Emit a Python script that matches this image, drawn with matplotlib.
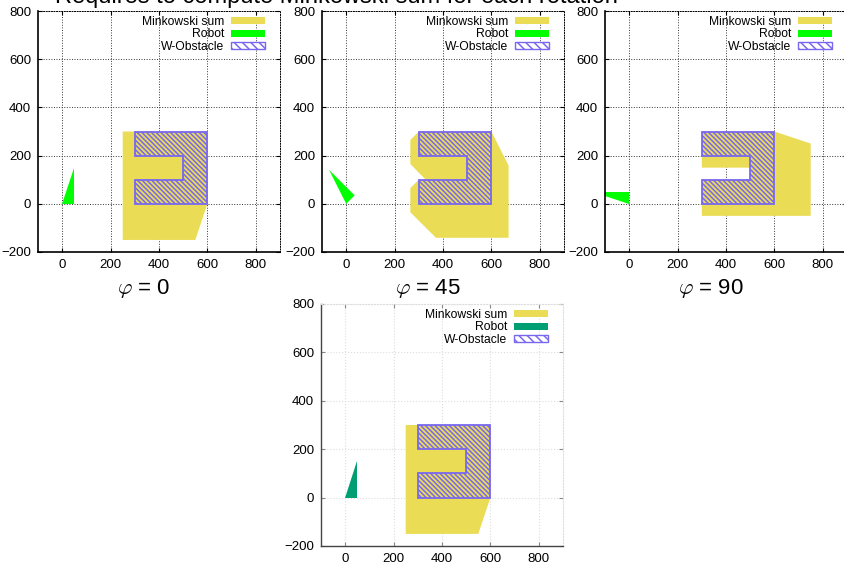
import matplotlib.pyplot as plt
from matplotlib.patches import Polygon, Patch

plt.rcParams['font.family'] = ['Liberation Sans', 'DejaVu Sans']
plt.rcParams['mathtext.fontset'] = 'cm'
plt.rcParams['hatch.linewidth'] = 1.1

# W-obstacle (C shape opening to the left)
obstacle = [(300, 0), (600, 0), (600, 300), (300, 300), (300, 200),
            (500, 200), (500, 100), (300, 100)]

# robot triangle per rotation
robot_0 = [(0, 0), (50, 0), (50, 150)]
robot_45 = [(0, 0), (35, 35), (-71, 141)]
robot_90 = [(0, 0), (0, 50), (-150, 50)]

# Minkowski sum outlines per rotation
mink_0 = [(250, -150), (550, -150), (600, 0), (600, 300), (250, 300)]
mink_45 = [(265, -35), (371, -141), (671, -141), (671, 159), (600, 300),
           (300, 300), (265, 265), (265, 165), (329, 100), (300, 100),
           (265, 65)]
mink_90 = [(300, -50), (750, -50), (750, 250), (600, 300), (300, 300),
           (300, 150), (500, 150), (500, 100), (300, 100)]

angles = ['0', '45', '90']
x_ticks = [0, 200, 400, 600, 800]
y_ticks = [-200, 0, 200, 400, 600, 800]

YELLOW = '#ebdc55'
LIME = '#00ff00'
TEAL = '#009e73'
BLUE = '#7868f0'
HATCH = '\\' * 7

W, H = 845, 564
fig = plt.figure(figsize=(W / 100, H / 100), dpi=100)


def px_axes(left, top, right, bottom):
    return fig.add_axes([left / W, 1 - bottom / H, (right - left) / W, (bottom - top) / H])


def draw_panel(ax, mink, robot, robot_color, light=False):
    ax.add_patch(Polygon(mink, closed=True, facecolor=YELLOW, edgecolor='none', zorder=2))
    ax.add_patch(Polygon(robot, closed=True, facecolor=robot_color, edgecolor='none', zorder=2))
    ax.add_patch(Polygon(obstacle, closed=True, facecolor='none', edgecolor=BLUE,
                         hatch=HATCH, linewidth=0, zorder=3))
    ax.add_patch(Polygon(obstacle, closed=True, facecolor='none', edgecolor=BLUE,
                         linewidth=1.3, zorder=4))
    ax.set_xlim(-100, 900)
    ax.set_ylim(-200, 800)
    ax.set_xticks(x_ticks)
    ax.set_yticks(y_ticks)
    ax.tick_params(direction='in', top=True, right=True, labelsize=9.5, length=3,
                   colors='#888888' if light else 'black', labelcolor='black', pad=5)
    if light:
        ax.grid(True, color='#dddddd', linestyle=':', linewidth=0.8)
        for s in ['left', 'bottom']:
            ax.spines[s].set_color('#444444')
            ax.spines[s].set_linewidth(1.0)
        for s in ['top', 'right']:
            ax.spines[s].set_color('#dddddd')
            ax.spines[s].set_linestyle(':')
            ax.spines[s].set_linewidth(0.8)
    else:
        ax.grid(True, color='#333333', linestyle=':', linewidth=0.7)
        for s in ['left', 'bottom']:
            ax.spines[s].set_linewidth(1.2)
        for s in ['top', 'right']:
            ax.spines[s].set_linestyle(':')
            ax.spines[s].set_linewidth(0.7)
    ax.set_axisbelow(True)

    handles = [Patch(facecolor=YELLOW, edgecolor='none', label='Minkowski sum'),
               Patch(facecolor=robot_color, edgecolor='none', label='Robot'),
               Patch(facecolor='white', edgecolor=BLUE, hatch='\\\\\\\\', linewidth=1.0,
                     label='W-Obstacle')]
    ax.legend(handles=handles, loc='upper right', frameon=False, markerfirst=False,
              fontsize=8.7, handlelength=2.8, handleheight=0.55, labelspacing=0.05,
              handletextpad=0.55, borderaxespad=0.0, borderpad=0.4,
              bbox_to_anchor=(1 - 10 / 242, 1.0))


top_lefts = [38, 322, 605]
minks = [mink_0, mink_45, mink_90]
robots = [robot_0, robot_45, robot_90]
for left, mink, robot, ang in zip(top_lefts, minks, robots, angles):
    ax = px_axes(left, 11, left + 242, 252)
    draw_panel(ax, mink, robot, LIME)
    cx = (left + 121 - 15) / W
    fig.text(cx, 1 - 289 / H, r'$\varphi$ = ' + ang, ha='center', va='center', fontsize=16)

ax4 = px_axes(321, 304, 563, 546)
draw_panel(ax4, mink_0, robot_0, TEAL, light=True)

fig.text(336 / W, 1 - 3.0 / H, 'Requires to compute Minkowski sum for each rotation',
         ha='center', va='baseline', fontsize=17)

fig.savefig('out.png', dpi=100)
